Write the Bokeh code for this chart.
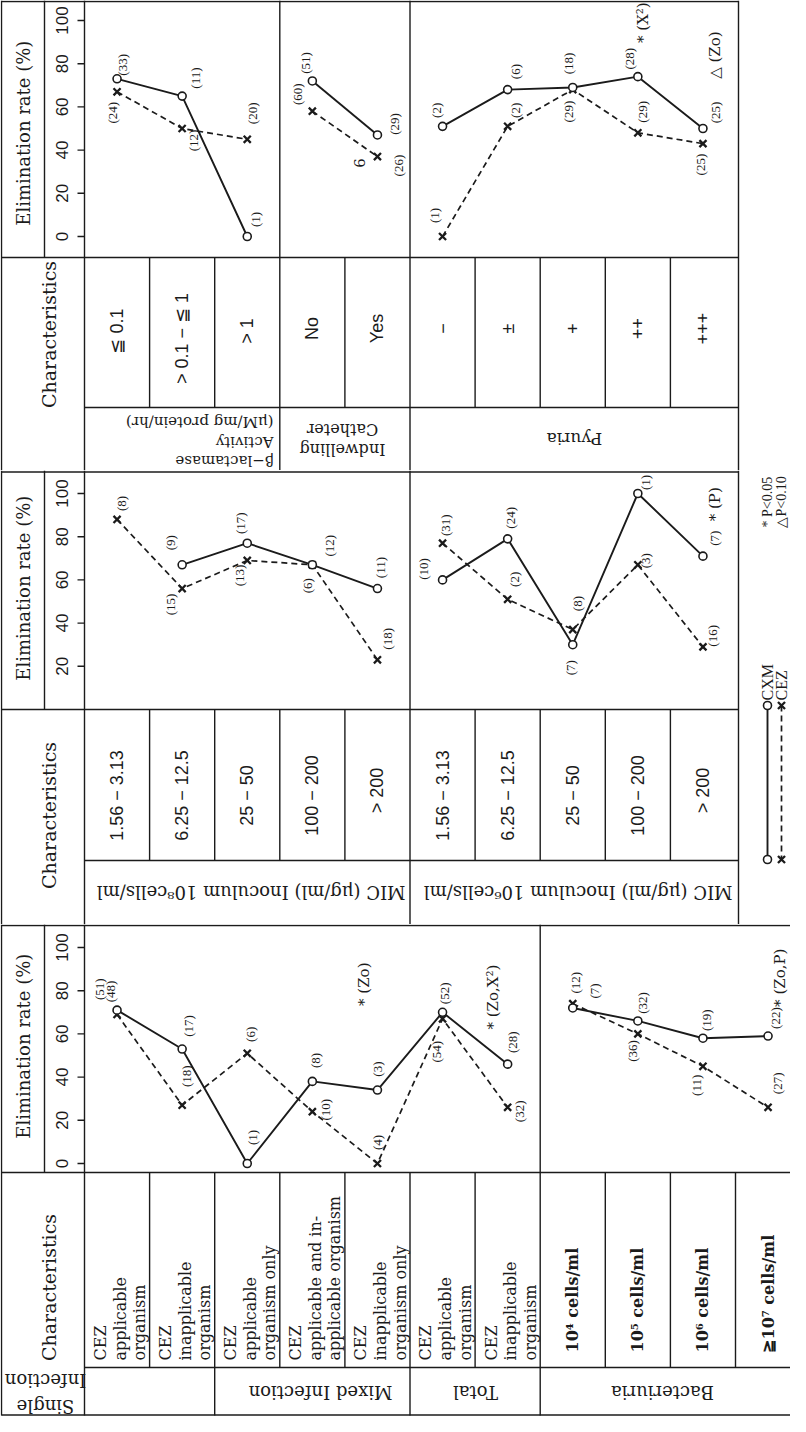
import math
from bokeh.plotting import figure
from bokeh.layouts import column
from bokeh.models import Range1d
from bokeh.core.properties import value
from bokeh.embed import file_html
from bokeh.resources import INLINE

# ===================== DATA =====================
# --- top block: beta-lactamase activity / indwelling catheter / pyuria ---
A_CATS = ["≦  0.1", ">  0.1  −  ≦  1", ">  1", "No", "Yes", "−", "±", "+", "++", "+++"]
A_GROUPS = ["β−lactamase\nActivity\n(μM/mg protein/hr)", "Indwelling\nCatheter", "Pyuria"]
A_SIZES = [3, 2, 5]
A_LINKS = [(0, 3), (3, 5), (5, 10)]
A_CXM = [73, 65, 0, 72, 47, 51, 68, 69, 74, 50]
A_CEZ = [67, 50, 45, 58, 37, 0, 51, 68, 48, 43]
A_CXM_N = [33, 11, 1, 51, 29, 2, 6, 18, 28, 25]
A_CEZ_N = [24, 12, 20, 60, 26, 1, 2, 29, 29, 25]
A_NOTES = ["* (X²)", "△ (Zo)", "6"]
A_NOTE_CAT = [8, 9, 4]
A_TICKS = [0, 20, 40, 60, 80, 100]

# --- middle block: MIC by inoculum size ---
B_CATS = ["1.56   −   3.13", "6.25   −   12.5", "25   −   50", "100   −   200", ">   200",
          "1.56   −   3.13", "6.25   −   12.5", "25   −   50", "100   −   200", ">   200"]
B_GROUPS = ["MIC (μg/ml)   Inoculum 10⁸cells/ml", "MIC (μg/ml)   Inoculum 10⁶cells/ml"]
B_SIZES = [5, 5]
B_LINKS = [(0, 5), (5, 10)]
B_CXM = [None, 67, 77, 67, 56, 60, 79, 30, 100, 71]
B_CEZ = [88, 56, 69, 67, 23, 77, 51, 37, 67, 29]
B_CXM_N = [None, 9, 17, 12, 11, 10, 24, 7, 1, 7]
B_CEZ_N = [8, 15, 13, 6, 18, 31, 2, 8, 3, 16]
B_NOTES = ["* (P)"]
B_NOTE_CAT = [9]
B_TICKS = [20, 40, 60, 80, 100]

# --- bottom block: infection type / bacteriuria ---
C_CATS = ["CEZ\napplicable\norganism", "CEZ\ninapplicable\norganism",
          "CEZ\napplicable\norganism only", "CEZ\napplicable and in-\napplicable organism",
          "CEZ\ninapplicable\norganism only", "CEZ\napplicable\norganism",
          "CEZ\ninapplicable\norganism",
          "10⁴  cells/ml", "10⁵  cells/ml", "10⁶  cells/ml", "≧10⁷  cells/ml"]
C_GROUPS = ["Single\nInfection", "Mixed Infection", "Total", "Bacteriuria"]
C_SIZES = [2, 3, 2, 4]
C_LINKS = [(0, 7), (7, 11)]
C_CXM = [71, 53, 0, 38, 34, 70, 46, 72, 66, 58, 59]
C_CEZ = [69, 27, 51, 24, 0, 67, 26, 74, 60, 45, 26]
C_CXM_N = [51, 17, 1, 8, 3, 52, 28, 7, 32, 19, 22]
C_CEZ_N = [48, 18, 6, 10, 4, 54, 32, 12, 36, 11, 27]
C_NOTES = ["* (Zo)", "* (Zo,X²)", "* (Zo,P)"]
C_NOTE_CAT = [4, 6, 10]
C_TICKS = [0, 20, 40, 60, 80, 100]

LEGEND = ["CXM", "CEZ"]
SIG = ["* P<0.05", "△P<0.10"]
TITLE_RATE = "Elimination  rate  (%)"
TITLE_CHAR = "Characteristics"

# ===================== STYLE (label offsets in px) =====================
A_CXM_DX = [5, 13, 8, -7, 17, -6, 8, -4, -8, 13]
A_CXM_DY = [-14, -18, -17, -18, -11, -16, -18, -24, -18, -16]
A_CEZ_DX = [-5, 11, 5, -15, 21, -8, 8, -4, 5, -2]
A_CEZ_DY = [21, 12, -26, -17, 9, -21, -16, 22, -21, 21]
A_NOTE_DX = [5, 12, -18]
A_NOTE_Y = [99, 84, 34]

B_CXM_DX = [0, -12, -7, 17, 3, -19, 3, -2, 8, 12]
B_CXM_DY = [0, -22, -20, -19, -21, -11, -21, 23, -11, -18]
B_CEZ_DX = [4, -12, -8, -5, 10, 3, 7, 5, 8, 10]
B_CEZ_DY = [-16, 16, 15, 21, -21, -18, -20, -26, -4, -11]
B_NOTE_DX = [12]
B_NOTE_Y = [95]

C_CXM_DX = [-18, 6, 5, 3, 0, 2, 5, 22, 5, 4, 7]
C_CXM_DY = [-21, -23, -26, -21, -21, -19, -22, -17, -18, -18, -18]
C_CEZ_DX = [-7, 4, 3, 13, 0, -6, 12, 3, -5, -6, 9]
C_CEZ_DY = [-23, -29, -19, -2, -21, 33, 4, -21, 17, 19, -24]
C_NOTE_DX = [-13, -15, 12]
C_NOTE_Y = [83, 77, 86]

UP = math.pi / 2
FLIP = math.pi
SERIF = "DejaVu Serif"
SANS = "Liberation Sans"
LABF = "Liberation Serif"
INK = "#1b1b1b"

CELL = 65.1      # width of one category cell (px)
X0 = 92.0        # left edge of the first category cell (px)
PXV = 2.16       # px per percentage point


def ux(px):
    return (px - X0) / CELL


def bounds(sizes):
    out, s = [], 0
    for z in sizes:
        s += z
        out.append(s)
    return out


def new_band(top, bot, zero):
    def vy(px):
        return (zero - px) / PXV
    p = figure(width=790, height=bot - top, x_range=Range1d(ux(8), ux(798)),
               y_range=Range1d(vy(bot), vy(top)), output_backend="svg",
               toolbar_location=None, min_border=0, x_axis_type=None, y_axis_type=None,
               outline_line_color=None, title=None)
    p.background_fill_color = "white"
    p.border_fill_color = "white"
    return p, vy


def add_text(p, xs, ys, texts, size, font=SERIF, angle=UP, align="center",
             baseline="middle", style="normal", lh=1.2):
    p.text(x=list(xs), y=list(ys), text=list(texts), angle=angle, text_align=align,
           text_baseline=baseline, text_font=value(font), text_font_size=size,
           text_font_style=value(style), text_line_height=lh, text_color=INK)


def grid(p, vy, hs, vs):
    x0 = [h[1] for h in hs] + [v[0] for v in vs]
    x1 = [h[2] for h in hs] + [v[0] for v in vs]
    y0 = [vy(h[0]) for h in hs] + [vy(v[1]) for v in vs]
    y1 = [vy(h[0]) for h in hs] + [vy(v[2]) for v in vs]
    p.segment(x0=x0, y0=y0, x1=x1, y1=y1, line_color=INK, line_width=1.4)


def value_ticks(p, ticks):
    n = len(ticks)
    p.segment(x0=[ux(85)] * n, x1=[0] * n, y0=ticks, y1=ticks, line_color=INK, line_width=1.4)
    add_text(p, [ux(69)] * n, ticks, [str(t) for t in ticks], "17px", font=SANS)


def plot_data(p, links, cxm, cez, cxm_n, cez_n, cxm_dx, cxm_dy, cez_dx, cez_dy):
    n = len(cxm)
    xs = [i + 0.5 for i in range(n)]
    yc = [math.nan if v is None else v for v in cxm]
    ye = [math.nan if v is None else v for v in cez]
    for a, b in links:
        p.line(xs[a:b], ye[a:b], line_color=INK, line_width=1.7, line_dash="6 4")
        p.line(xs[a:b], yc[a:b], line_color=INK, line_width=1.9)
    ke = [i for i in range(n) if cez[i] is not None]
    kc = [i for i in range(n) if cxm[i] is not None]
    p.scatter([xs[i] for i in ke], [ye[i] for i in ke], marker="x", size=10,
              line_color=INK, line_width=2.3)
    p.scatter([xs[i] for i in kc], [yc[i] for i in kc], marker="circle", size=8,
              fill_color="white", line_color=INK, line_width=1.6)
    lx = [xs[i] + cez_dx[i] / CELL for i in ke] + [xs[i] + cxm_dx[i] / CELL for i in kc]
    ly = [ye[i] - cez_dy[i] / PXV for i in ke] + [yc[i] - cxm_dy[i] / PXV for i in kc]
    lt = [f"({cez_n[i]})" for i in ke] + [f"({cxm_n[i]})" for i in kc]
    add_text(p, lx, ly, lt, "13px", font=LABF)


def notes(p, texts, cats, dxs, ys):
    add_text(p, [c + 0.5 + d / CELL for c, d in zip(cats, dxs)], ys, texts, "15px")


L, HX, RA, RC = ux(9), ux(52), ux(746), ux(806)

# ===================== TOP BAND =====================
pA, vyA = new_band(8, 478, 244)
bA = bounds(A_SIZES)
grid(pA, vyA,
     hs=[(9, L, RA), (265, L, RA), (415, 0, RA)],
     vs=[(L, 8, 478), (HX, 8, 265), (0, 8, 478), (RA, 8, 478)]
        + [(b, 8, 478) for b in bA[:-1]]
        + [(k, 265, 415) for k in range(1, len(A_CATS)) if k not in bA])
value_ticks(pA, A_TICKS)
add_text(pA, [ux(31)], [vyA(135)], [TITLE_RATE], "18px")
add_text(pA, [ux(56)], [vyA(342)], [TITLE_CHAR], "19px")
add_text(pA, [i + 0.5 for i in range(len(A_CATS))], [vyA(336)] * len(A_CATS), A_CATS,
         "18px", font=SANS)
for g, gx, gy, al, fs in zip(A_GROUPS, [281, 350, 582], [449, 447, 446],
                             ["left", "center", "center"], ["15px", "16px", "17px"]):
    add_text(pA, [ux(gx)], [vyA(gy)], [g], fs, angle=FLIP, align=al, lh=1.1)
plot_data(pA, A_LINKS, A_CXM, A_CEZ, A_CXM_N, A_CEZ_N, A_CXM_DX, A_CXM_DY, A_CEZ_DX, A_CEZ_DY)
notes(pA, A_NOTES, A_NOTE_CAT, A_NOTE_DX, A_NOTE_Y)

# ===================== MIDDLE BAND =====================
pB, vyB = new_band(478, 932, 717)
bB = bounds(B_SIZES)
grid(pB, vyB,
     hs=[(479.5, L, RA), (717, L, RA), (868, 0, RA)],
     vs=[(L, 478, 932), (HX, 478, 717), (0, 478, 932), (RA, 478, 932)]
        + [(b, 478, 932) for b in bB[:-1]]
        + [(k, 717, 868) for k in range(1, len(B_CATS)) if k not in bB])
value_ticks(pB, B_TICKS)
add_text(pB, [ux(31)], [vyB(590)], [TITLE_RATE], "18px")
add_text(pB, [ux(56)], [vyB(823)], [TITLE_CHAR], "19px")
add_text(pB, [i + 0.5 for i in range(len(B_CATS))], [vyB(793)] * len(B_CATS), B_CATS,
         "18px", font=SANS)
add_text(pB, [ux(253), ux(580)], [vyB(900)] * 2, B_GROUPS, "18px", angle=FLIP)
plot_data(pB, B_LINKS, B_CXM, B_CEZ, B_CXM_N, B_CEZ_N, B_CXM_DX, B_CXM_DY, B_CEZ_DX, B_CEZ_DY)
notes(pB, B_NOTES, B_NOTE_CAT, B_NOTE_DX, B_NOTE_Y)

# legend (outside the table, right margin)
lg1, lg2 = ux(775), ux(789)
pB.line([lg1, lg1], [vyB(713), vyB(867)], line_color=INK, line_width=1.9)
pB.line([lg2, lg2], [vyB(713), vyB(867)], line_color=INK, line_width=1.7, line_dash="6 4")
pB.scatter([lg2, lg2], [vyB(713), vyB(867)], marker="x", size=10, line_color=INK, line_width=2.3)
pB.scatter([lg1, lg1], [vyB(713), vyB(867)], marker="circle", size=8, fill_color="white",
           line_color=INK, line_width=1.6)
add_text(pB, [lg1, lg2], [vyB(708)] * 2, LEGEND, "16px", font=LABF, align="left")
add_text(pB, [lg1, lg2], [vyB(535)] * 2, SIG, "14px", font=LABF, align="left")

# ===================== BOTTOM BAND =====================
pC, vyC = new_band(932, 1424, 1171)
bC = bounds(C_SIZES)
grid(pC, vyC,
     hs=[(933, L, RC), (1180, L, RC), (1375, 0, RC), (1422.5, L, RC)],
     vs=[(L, 932, 1423), (HX, 932, 1180), (0, 932, 1423), (bC[2], 932, 1423)]
        + [(b, 1180, 1423) for b in bC[:2]]
        + [(k, 1180, 1375) for k in range(1, len(C_CATS)) if k not in bC])
value_ticks(pC, C_TICKS)
add_text(pC, [ux(31)], [vyC(1048)], [TITLE_RATE], "18px")
add_text(pC, [ux(56)], [vyC(1295)], [TITLE_CHAR], "19px")
add_text(pC, [i + 0.5 + 3 / CELL for i in range(7)], [vyC(1368)] * 7, C_CATS[:7], "16px",
         align="left", lh=1.03)
add_text(pC, [i + 0.5 for i in range(7, 11)], [vyC(1360)] * 4, C_CATS[7:], "16px",
         align="left", style="bold")
add_text(pC, [ux(53), ux(328), ux(483), ux(670)], [vyC(1401), vyC(1400), vyC(1400), vyC(1400)],
         C_GROUPS, "18px", angle=FLIP)
plot_data(pC, C_LINKS, C_CXM, C_CEZ, C_CXM_N, C_CEZ_N, C_CXM_DX, C_CXM_DY, C_CEZ_DX, C_CEZ_DY)
notes(pC, C_NOTES, C_NOTE_CAT, C_NOTE_DX, C_NOTE_Y)

layout = column(pA, pB, pC)
open("out.html", "w").write(file_html(layout, INLINE, title="Elimination rate"))
